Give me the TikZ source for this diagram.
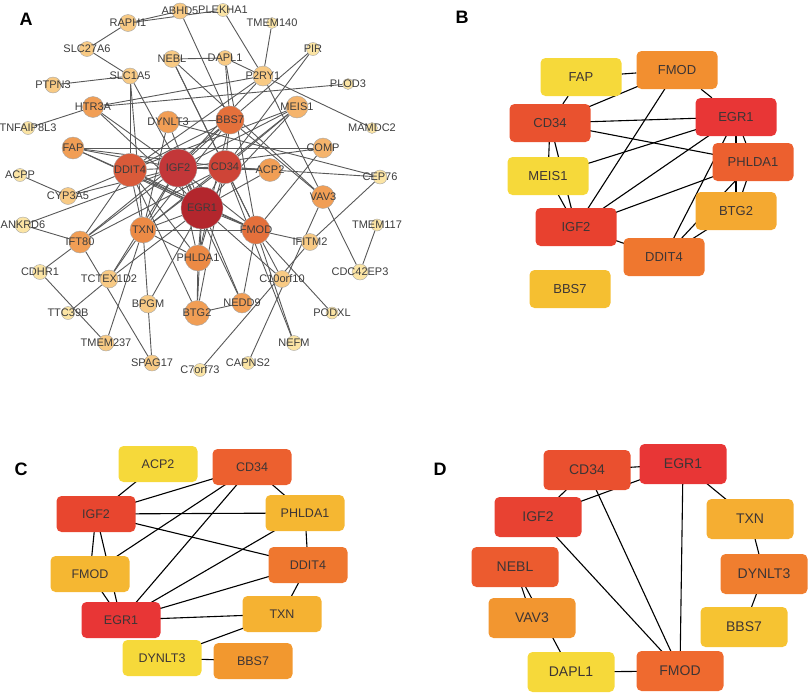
\documentclass[tikz,border=0pt]{standalone}
\usepackage{fontspec}
\setmainfont{Liberation Sans}
\usetikzlibrary{backgrounds}

\definecolor{pA1}{HTML}{B3262D}
\definecolor{pA2}{HTML}{C33739}
\definecolor{pA3}{HTML}{CE4437}
\definecolor{pA4}{HTML}{D95A39}
\definecolor{pA5}{HTML}{E4703B}
\definecolor{pA6}{HTML}{EC8A45}
\definecolor{pA7}{HTML}{F19E55}
\definecolor{pA8}{HTML}{F5B46C}
\definecolor{pA9}{HTML}{F8CA84}
\definecolor{pA10}{HTML}{FBE4A4}
\definecolor{edgegray}{HTML}{585858}
\definecolor{labgray}{HTML}{3C3C3C}
\definecolor{boxtext}{HTML}{3D3535}
\definecolor{hYel}{HTML}{F6D93A}
\definecolor{hRed}{HTML}{E83636}
\definecolor{hex1}{HTML}{E9522F}
\definecolor{hex2}{HTML}{E8412F}
\definecolor{hex3}{HTML}{F5BF31}
\definecolor{hex4}{HTML}{F28F30}
\definecolor{hex5}{HTML}{EC602F}
\definecolor{hex6}{HTML}{F4A931}
\definecolor{hex7}{HTML}{EF772F}
\definecolor{hex8}{HTML}{E8462F}
\definecolor{hex9}{HTML}{F5B732}
\definecolor{hex10}{HTML}{F5B232}
\definecolor{hex11}{HTML}{F2982F}
\definecolor{hex12}{HTML}{EA502F}
\definecolor{hex13}{HTML}{E84232}
\definecolor{hex14}{HTML}{F5AE32}
\definecolor{hex15}{HTML}{EC5B2F}
\definecolor{hex16}{HTML}{F07E2F}
\definecolor{hex17}{HTML}{F29630}
\definecolor{hex18}{HTML}{F6C332}
\definecolor{hex19}{HTML}{EF6A2F}

\tikzset{
	gtext/.style={font=\fontsize{11}{12}\selectfont, text=labgray, inner sep=0pt},
	gnode/.style={circle, draw=black!35, line width=0.4pt, inner sep=0pt, label={[gtext]center:#1}},
	gedge/.style={draw=edgegray, line width=0.9pt},
	hedge/.style={draw=black, line width=1.1pt},
	bbox/.style={rectangle, rounded corners=5pt, inner sep=0pt, text=boxtext, minimum width=81pt, minimum height=38pt, font=\fontsize{13}{15}\selectfont},
	cbox/.style={bbox, minimum width=79pt, minimum height=36pt, font=\fontsize{12.5}{14}\selectfont},
	dbox/.style={bbox, minimum width=87pt, minimum height=40pt, font=\fontsize{14}{16}\selectfont},
	panel/.style={font=\bfseries\fontsize{18}{20}\selectfont, inner sep=0pt}
}

\begin{document}
\begin{tikzpicture}[x=1pt, y=-1pt]
	%%%%% START %%%%%
	\useasboundingbox (0,0) rectangle (809,694);
	
	\node[panel] (labA) at (26,19) {A};
	\node[panel] (labB) at (462,17) {B};
	\node[panel] (labC) at (21,469) {C};
	\node[panel] (labD) at (440,469) {D};
	
	%% panel A
	\node[gnode=EGR1, fill=pA1, minimum size=42pt] (EGR1) at (202,208) {};
	\node[gnode=IGF2, fill=pA2, minimum size=38pt] (IGF2) at (178,168) {};
	\node[gnode=CD34, fill=pA3, minimum size=33pt] (CD34) at (225,167) {};
	\node[gnode=DDIT4, fill=pA4, minimum size=33pt] (DDIT4) at (130,170) {};
	\node[gnode=BBS7, fill=pA5, minimum size=28pt] (BBS7) at (230,120) {};
	\node[gnode=FMOD, fill=pA5, minimum size=28pt] (FMOD) at (256,230) {};
	\node[gnode=TXN, fill=pA6, minimum size=26pt] (TXN) at (143,230) {};
	\node[gnode=PHLDA1, fill=pA6, minimum size=26pt] (PHLDA1) at (198,258) {};
	\node[gnode=ACP2, fill=pA7, minimum size=23pt] (ACP2) at (270,170) {};
	\node[gnode=BTG2, fill=pA7, minimum size=25pt] (BTG2) at (197,313) {};
	\node[gnode=HTR3A, fill=pA7, minimum size=21pt] (HTR3A) at (93,107) {};
	\node[gnode=FAP, fill=pA7, minimum size=22pt] (FAP) at (73,148) {};
	\node[gnode=DYNLT3, fill=pA7, minimum size=22pt] (DYNLT3) at (168,122) {};
	\node[gnode=IFT80, fill=pA7, minimum size=22pt] (IFT80) at (80,242) {};
	\node[gnode=VAV3, fill=pA7, minimum size=23pt] (VAV3) at (323,197) {};
	\node[gnode=NEDD9, fill=pA7, minimum size=20pt] (NEDD9) at (242,303) {};
	\node[gnode=MEIS1, fill=pA8, minimum size=22pt] (MEIS1) at (297,107) {};
	\node[gnode=COMP, fill=pA8, minimum size=20pt] (COMP) at (323,148) {};
	\node[gnode=BPGM, fill=pA9, minimum size=18pt] (BPGM) at (148,304) {};
	\node[gnode=TCTEX1D2, fill=pA9, minimum size=18pt] (TCTEX1D2) at (109,279) {};
	\node[gnode=IFITM2, fill=pA9, minimum size=17pt] (IFITM2) at (310,242) {};
	\node[gnode=C10orf10, fill=pA9, minimum size=17pt] (C10orf10) at (282,279) {};
	\node[gnode=P2RY1, fill=pA9, minimum size=20pt] (P2RY1) at (263,76) {};
	\node[gnode=SLC1A5, fill=pA9, minimum size=16pt] (SLC1A5) at (130,76) {};
	\node[gnode=NEBL, fill=pA9, minimum size=17pt] (NEBL) at (172,59) {};
	\node[gnode=DAPL1, fill=pA9, minimum size=15pt] (DAPL1) at (225,58) {};
	\node[gnode=RAPH1, fill=pA9, minimum size=17pt] (RAPH1) at (128,23) {};
	\node[gnode=ABHD5, fill=pA9, minimum size=16pt] (ABHD5) at (180,11) {};
	\node[gnode=SLC27A6, fill=pA9, minimum size=15pt] (SLC27A6) at (87,49) {};
	\node[gnode=PTPN3, fill=pA9, minimum size=16pt] (PTPN3) at (53,85) {};
	\node[gnode=CYP3A5, fill=pA9, minimum size=17pt] (CYP3A5) at (68,196) {};
	\node[gnode=SPAG17, fill=pA9, minimum size=16pt] (SPAG17) at (152,363) {};
	\node[gnode=TMEM237, fill=pA9, minimum size=16pt] (TMEM237) at (106,343) {};
	\node[gnode=PLEKHA1, fill=pA10, minimum size=13pt] (PLEKHA1) at (223,10) {};
	\node[gnode=TMEM140, fill=pA10, minimum size=11pt] (TMEM140) at (272,23) {};
	\node[gnode=PIR, fill=pA10, minimum size=13pt] (PIR) at (313,49) {};
	\node[gnode=PLOD3, fill=pA10, minimum size=11pt] (PLOD3) at (348,84) {};
	\node[gnode=MAMDC2, fill=pA10, minimum size=11pt] (MAMDC2) at (372,128) {};
	\node[gnode=TNFAIP8L3, fill=pA10, minimum size=13pt] (TNFAIP8L3) at (28,128) {};
	\node[gnode=ACPP, fill=pA10, minimum size=13pt] (ACPP) at (20,175) {};
	\node[gnode=CEP76, fill=pA10, minimum size=14pt] (CEP76) at (380,177) {};
	\node[gnode=ANKRD6, fill=pA10, minimum size=16pt] (ANKRD6) at (23,225) {};
	\node[gnode=CDHR1, fill=pA10, minimum size=15pt] (CDHR1) at (40,272) {};
	\node[gnode=TMEM117, fill=pA10, minimum size=12pt] (TMEM117) at (377,225) {};
	\node[gnode=CDC42EP3, fill=pA10, minimum size=16pt] (CDC42EP3) at (360,272) {};
	\node[gnode=TTC39B, fill=pA10, minimum size=13pt] (TTC39B) at (68,313) {};
	\node[gnode=PODXL, fill=pA10, minimum size=12pt] (PODXL) at (332,313) {};
	\node[gnode=NEFM, fill=pA10, minimum size=15pt] (NEFM) at (294,343) {};
	\node[gnode=CAPNS2, fill=pA10, minimum size=13pt] (CAPNS2) at (248,363) {};
	\node[gnode=C7orf73, fill=pA10, minimum size=13pt] (C7orf73) at (200,370) {};
	
	\begin{pgfonlayer}{background}
		\draw[gedge] (EGR1) edge (IGF2) edge (CD34) edge (DDIT4) edge (FMOD) edge (PHLDA1) edge (TXN) edge (BTG2) edge (NEDD9) edge (C10orf10) edge (TCTEX1D2) edge (BPGM) edge (MEIS1) edge (ACP2) edge (FAP) edge (HTR3A) edge (SLC1A5) edge (DYNLT3);
		\draw[gedge] (IGF2) edge (CD34) edge (DDIT4) edge (FMOD) edge (PHLDA1) edge (TXN) edge (CYP3A5) edge (ANKRD6) edge (IFT80) edge (TCTEX1D2) edge (NEDD9) edge (MEIS1) edge (ACP2) edge (FAP) edge (HTR3A) edge (P2RY1) edge (BBS7) edge (COMP);
		\draw[gedge] (CD34) edge (FMOD) edge (PHLDA1) edge (TXN) edge (BTG2) edge (NEFM) edge (IFT80) edge (MEIS1) edge (ACP2) edge (FAP) edge (BBS7) edge (NEBL) edge (PIR) edge (CEP76);
		\draw[gedge] (DDIT4) edge (PHLDA1) edge (TXN) edge (BTG2) edge (CYP3A5) edge (IFT80) edge (FMOD) edge (SLC1A5) edge (MEIS1) edge (BBS7) edge (P2RY1);
		\draw[gedge] (FMOD) edge (IFITM2) edge (NEFM) edge (PODXL) edge (NEDD9) edge (C10orf10) edge (TXN) edge (FAP) edge (COMP) edge (DAPL1) edge (NEBL);
		\draw[gedge] (BBS7) edge (TXN) edge (DYNLT3) edge (VAV3) edge (ABHD5) edge (PIR) edge (DAPL1) edge (IFT80) edge (PHLDA1);
		\draw[gedge] (TXN) edge (DYNLT3) edge (BPGM) edge (TCTEX1D2) edge (TMEM237) edge (SLC1A5) edge (MEIS1) edge (PHLDA1);
		\draw[gedge] (P2RY1) edge (PLEKHA1) edge (TMEM140) edge (DAPL1) edge (MAMDC2) edge (HTR3A) edge (VAV3);
		\draw[gedge] (HTR3A) edge (PLOD3) edge (TNFAIP8L3);
		\draw[gedge] (RAPH1) edge (ABHD5) edge (PLEKHA1) edge (SLC27A6);
		\draw[gedge] (SLC1A5) edge (SLC27A6) edge (PTPN3);
		\draw[gedge] (NEBL) edge (DAPL1) edge (VAV3);
		\draw[gedge] (PHLDA1) -- (BTG2);
		\draw[gedge] (BTG2) -- (NEDD9);
		\draw[gedge] (BPGM) -- (SPAG17);
		\draw[gedge] (IFT80) edge (ANKRD6) edge (CDHR1) edge (SPAG17);
		\draw[gedge] (CDHR1) -- (TMEM237);
		\draw[gedge] (TTC39B) -- (TCTEX1D2);
		\draw[gedge] (ACPP) -- (CYP3A5);
		\draw[gedge] (COMP) -- (FAP);
		\draw[gedge] (DYNLT3) -- (CEP76);
		\draw[gedge] (VAV3) edge (CDC42EP3) edge (CAPNS2);
		\draw[gedge] (IFITM2) edge (C7orf73) edge (CEP76);
		\draw[gedge] (CDC42EP3) -- (TMEM117);
	\end{pgfonlayer}
	
	%% panel B
	\node[bbox, fill=hYel] (bFAP) at (581,77) {FAP};
	\node[bbox, fill=hex1] (bCD34) at (550,123) {CD34};
	\node[bbox, fill=hYel] (bMEIS1) at (548,176) {MEIS1};
	\node[bbox, fill=hex2] (bIGF2) at (576,227) {IGF2};
	\node[bbox, fill=hex3] (bBBS7) at (570,289) {BBS7};
	\node[bbox, fill=hex4] (bFMOD) at (677,70) {FMOD};
	\node[bbox, fill=hRed] (bEGR1) at (736,117) {EGR1};
	\node[bbox, fill=hex5] (bPHLDA1) at (753,162) {PHLDA1};
	\node[bbox, fill=hex6] (bBTG2) at (736,211) {BTG2};
	\node[bbox, fill=hex7] (bDDIT4) at (664,257) {DDIT4};
	
	\begin{pgfonlayer}{background}
		\draw[hedge] (bFAP) edge (bCD34) edge (bFMOD);
		\draw[hedge] (bCD34.center) edge (bFMOD.center) edge (bEGR1.center) edge (bPHLDA1.center) edge (bMEIS1.center) edge (bIGF2.center);
		\draw[hedge] (bMEIS1.center) edge (bIGF2.center) edge (bEGR1.center);
		\draw[hedge] (bIGF2.center) edge (bFMOD.center) edge (bEGR1.center) edge (bPHLDA1.center) edge (bDDIT4.center);
		\draw[hedge] (bFMOD) -- (bEGR1);
		\draw[hedge] (bEGR1.center) edge (bPHLDA1.center) edge (bBTG2.center) edge (bDDIT4.center);
		\draw[hedge] (bPHLDA1.center) edge (bBTG2.center) edge (bDDIT4.center);
		\draw[hedge] (bBTG2.center) -- (bDDIT4.center);
	\end{pgfonlayer}
	
	%% panel C
	\node[cbox, fill=hYel] (cACP2) at (158,464) {ACP2};
	\node[cbox, fill=hex5] (cCD34) at (252,467) {CD34};
	\node[cbox, fill=hex8] (cIGF2) at (96,514) {IGF2};
	\node[cbox, fill=hex9] (cPHLDA1) at (305,513) {PHLDA1};
	\node[cbox, fill=hex9] (cFMOD) at (90,574) {FMOD};
	\node[cbox, fill=hex7] (cDDIT4) at (308,565) {DDIT4};
	\node[cbox, fill=hRed] (cEGR1) at (121,620) {EGR1};
	\node[cbox, fill=hex10] (cTXN) at (282,614) {TXN};
	\node[cbox, fill=hYel] (cDYNLT3) at (162,658) {DYNLT3};
	\node[cbox, fill=hex11] (cBBS7) at (253,661) {BBS7};
	
	\begin{pgfonlayer}{background}
		\draw[hedge] (cIGF2.center) edge (cACP2.center) edge (cCD34.center) edge (cPHLDA1.center) edge (cDDIT4.center) edge (cFMOD.center) edge (cEGR1.center);
		\draw[hedge] (cCD34.center) edge (cPHLDA1.center) edge (cFMOD.center) edge (cEGR1.center);
		\draw[hedge] (cFMOD.center) -- (cEGR1.center);
		\draw[hedge] (cPHLDA1.center) edge (cDDIT4.center) edge (cEGR1.center);
		\draw[hedge] (cDDIT4.center) edge (cEGR1.center) edge (cTXN.center);
		\draw[hedge] (cEGR1.center) -- (cTXN.center);
		\draw[hedge] (cTXN.center) -- (cDYNLT3.center);
		\draw[hedge] (cDYNLT3.center) -- (cBBS7.center);
	\end{pgfonlayer}
	
	%% panel D
	\node[dbox, fill=hex12] (dCD34) at (587,470) {CD34};
	\node[dbox, fill=hRed] (dEGR1) at (683,464) {EGR1};
	\node[dbox, fill=hex13] (dIGF2) at (538,517) {IGF2};
	\node[dbox, fill=hex14] (dTXN) at (750,519) {TXN};
	\node[dbox, fill=hex15] (dNEBL) at (515,567) {NEBL};
	\node[dbox, fill=hex16] (dDYNLT3) at (764,574) {DYNLT3};
	\node[dbox, fill=hex17] (dVAV3) at (532,618) {VAV3};
	\node[dbox, fill=hex18] (dBBS7) at (744,627) {BBS7};
	\node[dbox, fill=hYel] (dDAPL1) at (571,672) {DAPL1};
	\node[dbox, fill=hex19] (dFMOD) at (680,671) {FMOD};
	
	\begin{pgfonlayer}{background}
		\draw[hedge] (dCD34.center) edge (dEGR1.center) edge (dIGF2.center) edge (dFMOD.center);
		\draw[hedge] (dIGF2.center) edge (dEGR1.center) edge (dFMOD.center);
		\draw[hedge] (dEGR1.center) edge (dFMOD.center) edge (dTXN.center);
		\draw[hedge] (dTXN.center) -- (dDYNLT3.center);
		\draw[hedge] (dDYNLT3.center) -- (dBBS7.center);
		\draw[hedge] (dNEBL.center) edge (dVAV3.center) edge (dDAPL1.center);
		\draw[hedge] (dDAPL1.center) -- (dFMOD.center);
	\end{pgfonlayer}
	%%%%% END %%%%%
\end{tikzpicture}
\end{document}
